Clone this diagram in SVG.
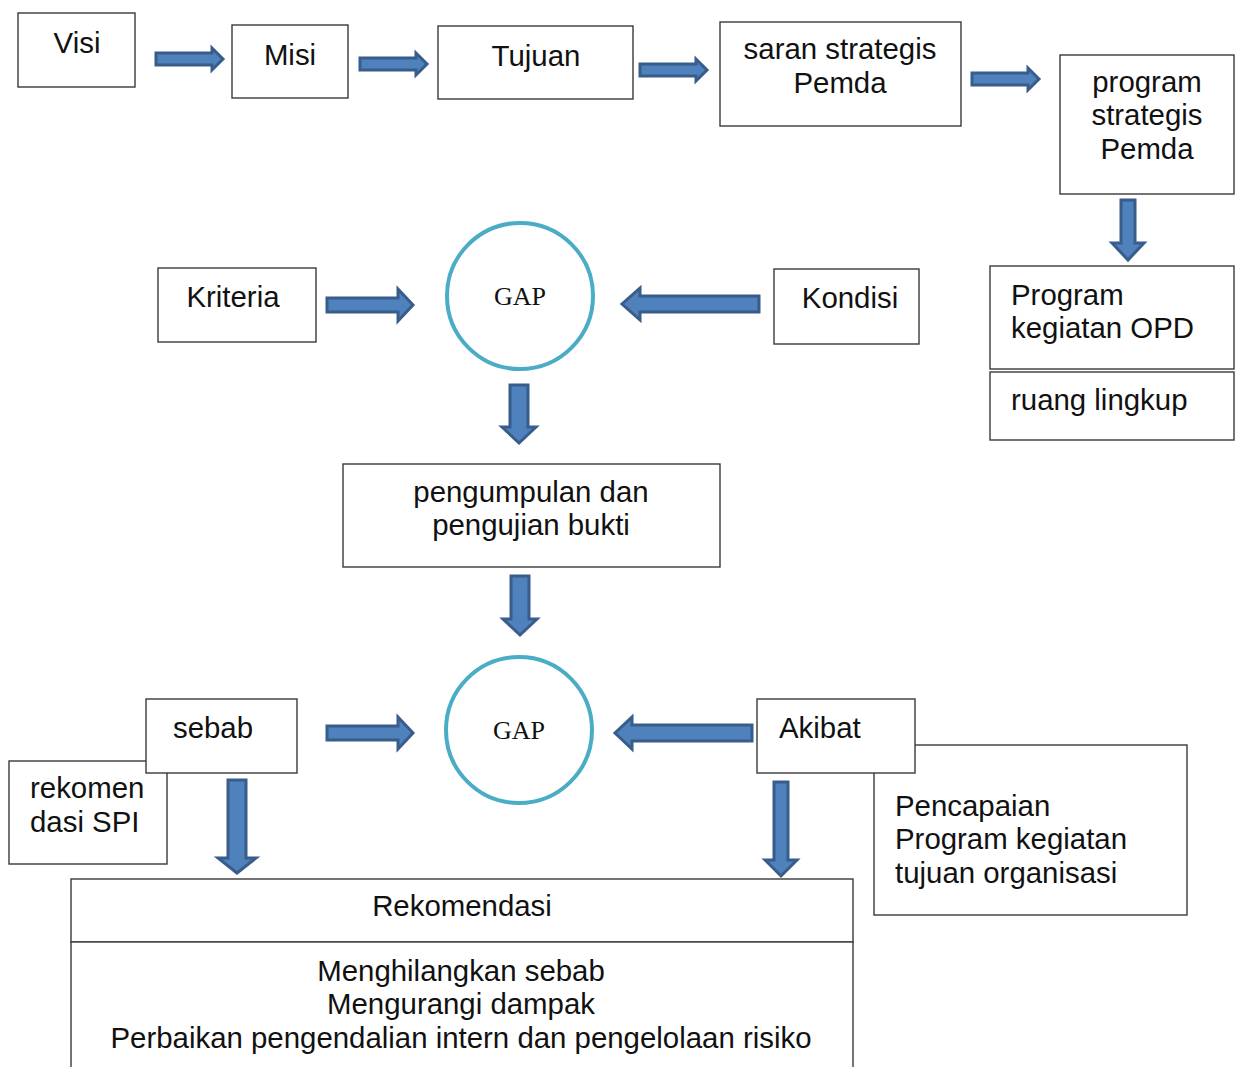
<svg xmlns="http://www.w3.org/2000/svg" width="1242" height="1067" viewBox="0 0 1242 1067">
<style>
.box{fill:#fff;stroke:#3a3a3a;stroke-width:1.4}
.t{font-family:"Liberation Sans",Arial,sans-serif;font-size:29.4px;fill:#111}
.c{text-anchor:middle}
.gap{fill:#fff;stroke:#4bacc6;stroke-width:4}
.gt{font-family:"Liberation Serif","Times New Roman",serif;font-size:26px;fill:#111;text-anchor:middle}
.arr{fill:#4f81bd;stroke:#385d8a;stroke-width:3;stroke-linejoin:miter}
</style>
<rect width="1242" height="1067" fill="#fff"/>
<g id="connectors">
<polygon class="arr" points="156,53 212,53 212,48 223,59 212,70 212,65 156,65"/>
<polygon class="arr" points="360,58 416,58 416,53 427,64 416,75 416,70 360,70"/>
<polygon class="arr" points="640,64 696,64 696,59 707,70 696,81 696,76 640,76"/>
<polygon class="arr" points="972,73 1028,73 1028,68 1039,79 1028,90 1028,85 972,85"/>
<polygon class="arr" points="1121,200 1135,200 1135,243 1144,243 1128,260 1112,243 1121,243"/>
<polygon class="arr" points="327,298 398,298 398,289 413,305 398,321 398,312 327,312"/>
<polygon class="arr" points="759,296 640,296 640,288 622,304 640,320 640,312 759,312"/>
<polygon class="arr" points="510,385 528,385 528,427 536,427 519,443 502,427 510,427"/>
<polygon class="arr" points="511,576 529,576 529,619 537,619 520,635 503,619 511,619"/>
<polygon class="arr" points="327,726 398,726 398,717 413,733 398,749 398,740 327,740"/>
<polygon class="arr" points="752,725 632,725 632,717 615,733 632,749 632,741 752,741"/>
<polygon class="arr" points="228,780 246,780 246,858 256,858 237,873 218,858 228,858"/>
<polygon class="arr" points="774,782 788,782 788,860 797,860 781,876 765,860 774,860"/>
</g>
<g id="visi"><rect class="box" x="18" y="13" width="117" height="74"/><text class="t c" x="77" y="53">Visi</text></g>
<g id="misi"><rect class="box" x="232" y="25" width="116" height="73"/><text class="t c" x="290" y="65">Misi</text></g>
<g id="tujuan"><rect class="box" x="438" y="26" width="195" height="73"/><text class="t c" x="536" y="66">Tujuan</text></g>
<g id="saran"><rect class="box" x="720" y="22" width="241" height="104"/><text class="t c" x="840" y="59">saran strategis</text><text class="t c" x="840" y="93">Pemda</text></g>
<g id="program"><rect class="box" x="1060" y="55" width="174" height="139"/><text class="t c" x="1147" y="92">program</text><text class="t c" x="1147" y="125">strategis</text><text class="t c" x="1147" y="159">Pemda</text></g>
<g id="opd"><rect class="box" x="990" y="266" width="244" height="103"/><text class="t" x="1011" y="305">Program</text><text class="t" x="1011" y="338">kegiatan OPD</text></g>
<g id="ruang"><rect class="box" x="990" y="372" width="244" height="68"/><text class="t" x="1011" y="410">ruang lingkup</text></g>
<g id="kriteria"><rect class="box" x="158" y="268" width="158" height="74"/><text class="t c" x="233" y="307">Kriteria</text></g>
<g id="kondisi"><rect class="box" x="774" y="269" width="145" height="75"/><text class="t c" x="850" y="308">Kondisi</text></g>
<g id="gap1"><circle class="gap" cx="520" cy="296" r="73"/><text class="gt" x="520" y="305">GAP</text></g>
<g id="pengumpulan"><rect class="box" x="343" y="464" width="377" height="103"/><text class="t c" x="531" y="502">pengumpulan dan</text><text class="t c" x="531" y="535">pengujian bukti</text></g>
<g id="gap2"><circle class="gap" cx="519" cy="730" r="73"/><text class="gt" x="519" y="739">GAP</text></g>
<g id="rekomenSPI"><rect class="box" x="9" y="761" width="158" height="103"/><text class="t" x="30" y="798">rekomen</text><text class="t" x="30" y="832">dasi SPI</text></g>
<g id="sebab"><rect class="box" x="146" y="699" width="151" height="74"/><text class="t c" x="213" y="738">sebab</text></g>
<g id="pencapaian"><rect class="box" x="874" y="745" width="313" height="170"/><text class="t" x="895" y="816">Pencapaian</text><text class="t" x="895" y="849">Program kegiatan</text><text class="t" x="895" y="883">tujuan organisasi</text></g>
<g id="akibat"><rect class="box" x="757" y="699" width="158" height="74"/><text class="t" x="779" y="738">Akibat</text></g>
<g id="rekomendasi"><rect class="box" x="71" y="879" width="782" height="63"/><text class="t c" x="462" y="916">Rekomendasi</text></g>
<g id="tindakan"><rect class="box" x="71" y="942" width="782" height="140"/><text class="t c" x="461" y="981">Menghilangkan sebab</text><text class="t c" x="461" y="1014">Mengurangi dampak</text><text class="t c" x="461" y="1048">Perbaikan pengendalian intern dan pengelolaan risiko</text></g>
</svg>
